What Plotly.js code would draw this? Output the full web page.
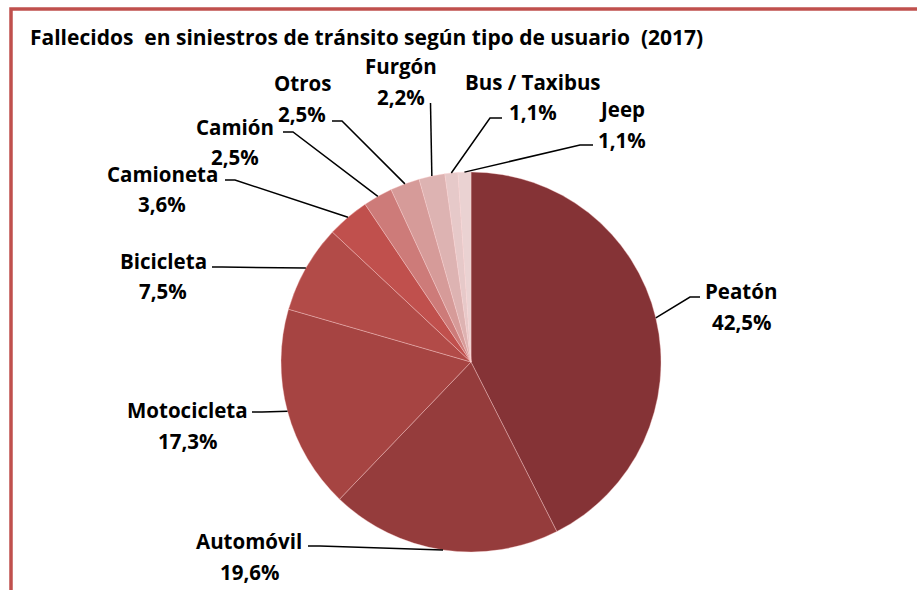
<!DOCTYPE html>
<html>
<head>
<meta charset="utf-8">
<script src="https://cdn.plot.ly/plotly-3.0.1.min.js"></script>
<style>html,body{margin:0;padding:0;background:#fff;}#chart{width:917px;height:590px;}</style>
</head>
<body>
<div id="chart"></div>
<script>
// ---- data ----
const categories = ["Peatón","Automóvil","Motocicleta","Bicicleta","Camioneta","Camión","Otros","Furgón","Bus / Taxibus","Jeep"];
const values = [42.5, 19.6, 17.3, 7.5, 3.6, 2.5, 2.5, 2.2, 1.1, 1.1];
const colors = ["#853336","#953c3c","#a64442","#b24b48","#c0504d","#cd7b79","#d69b99","#ddb3b2","#e6c9c9","#ead2d2"];
const titleText = "Fallecidos  en siniestros de tránsito según tipo de usuario  (2017)";

// ---- layout positions (pixels) ----
const W = 917, H = 590;
const pieCx = 471, pieCy = 362, pieR = 190;
// label centre (name line) and leader elbow / end points
const labelPos = [[741,291],[249,541],[187,410],[163,261],[162,174],[235,127],[302,83],[401,66],[533,82],[622,109]];
const elbowPos = [[690,297],[320,546],[262,412],[222,267],[235,180],[293,132],[342,121],[430.5,103],[490,118],[580,145]];
const endPos   = [[700,297],[308,546],[252,412],[212,267],[225,180],[283,132],[332,121],[430.5,103],[502,118],[593,145]];
const lineGap = 30.5;
const fontFamily = '"Open Sans", sans-serif';
const fontSize = 20.5;
const titleSize = 21;

const px = x => x / W;
const py = y => 1 - y / H;

const total = values.reduce((a,b)=>a+b,0);
const shapes = [];
const annotations = [];
let cum = 0;
values.forEach((v,i) => {
  const mid = (cum + v/2) / total * 2 * Math.PI;
  cum += v;
  const sx = pieCx + pieR * Math.sin(mid);
  const sy = pieCy - pieR * Math.cos(mid);
  const e = elbowPos[i], n = endPos[i];
  shapes.push({
    type: 'path', xref: 'paper', yref: 'paper',
    path: `M ${px(sx)},${py(sy)} L ${px(e[0])},${py(e[1])} L ${px(n[0])},${py(n[1])}`,
    line: {color: '#000000', width: 1.5}
  });
  const lp = labelPos[i];
  const f = {family: fontFamily, size: fontSize, color: '#000000', weight: 700};
  annotations.push({xref:'paper', yref:'paper', x: px(lp[0]), y: py(lp[1]), xanchor:'center', yanchor:'middle',
    text: categories[i], showarrow:false, font: f});
  annotations.push({xref:'paper', yref:'paper', x: px(lp[0]), y: py(lp[1] + lineGap), xanchor:'center', yanchor:'middle',
    text: v.toFixed(1).replace('.', ',') + '%', showarrow:false, font: f});
});

// chart frame
shapes.push({type:'rect', xref:'paper', yref:'paper', x0: px(11), x1: 1.1, y0: -0.1, y1: py(9),
  line:{color:'#c0504d', width:3.5}, fillcolor:'rgba(0,0,0,0)'});

const trace = {
  type: 'pie',
  labels: categories,
  values: values,
  sort: false,
  direction: 'clockwise',
  rotation: 0,
  textinfo: 'none',
  hoverinfo: 'none',
  marker: {colors: colors, line: {color: 'rgba(255,210,210,0.6)', width: 0.6}},
  domain: {x: [px(pieCx - pieR), px(pieCx + pieR)], y: [py(pieCy + pieR), py(pieCy - pieR)]}
};

const layout = {
  width: W, height: H,
  margin: {l:0, r:0, t:0, b:0},
  paper_bgcolor: '#ffffff',
  showlegend: false,
  title: {text: titleText, x: px(30), xanchor: 'left', xref: 'paper', y: py(38), yanchor: 'middle', yref: 'paper',
    font: {family: fontFamily, size: titleSize, color: '#000000', weight: 700}},
  shapes: shapes,
  annotations: annotations
};

Plotly.newPlot('chart', [trace], layout, {staticPlot: true});
</script>
</body>
</html>
